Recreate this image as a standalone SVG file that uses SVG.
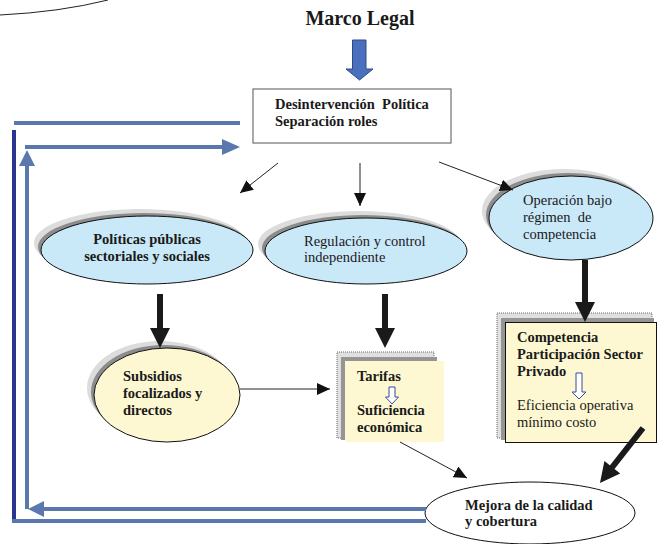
<svg xmlns="http://www.w3.org/2000/svg" width="658" height="544" viewBox="0 0 658 544">
<defs>
<style>
text{font-family:"Liberation Serif","Times New Roman",serif;font-size:14.5px;fill:#1a1a1a;white-space:pre}
.b{font-weight:bold}
.title{font-size:20px;font-weight:bold}
.thin{stroke:#222;stroke-width:1;fill:none}
.thick{stroke:#1a1a1a;stroke-width:6;fill:none}
.fb{stroke:#5a78ad;stroke-width:4;fill:none}
.navy{stroke:#2b3590;stroke-width:4;fill:none}
.sh1{fill:#dcdcdc}
.sh2{fill:#8c8c8c}
.blue{fill:#c9e8f8;stroke:#111;stroke-width:1}
.yel{fill:#fdf8d2;stroke:#111;stroke-width:1}
.hollow{fill:#fff;stroke:#3a48a0;stroke-width:1}
</style>
<marker id="ah" markerUnits="userSpaceOnUse" markerWidth="14" markerHeight="12" refX="13" refY="6" orient="auto">
<path d="M0,0 L13,6 L0,12 Z" fill="#111"/>
</marker>
</defs>

<path d="M0,15 Q60,12 108,0" stroke="#222" stroke-width="1" fill="none"/>

<g id="marco">
<text class="title" x="360" y="25" text-anchor="middle">Marco Legal</text>
<polygon points="352.5,40 366,40 366,69 373,69 359.5,80 346,69 352.5,69" fill="#4a70bd" stroke="#2c4a87" stroke-width="1"/>
</g>

<g id="desintervencion">
<rect x="253" y="89" width="198" height="54" fill="#fff" stroke="#555" stroke-width="1"/>
<text class="b" x="275" y="109" xml:space="preserve">Desintervención  Política</text>
<text class="b" x="275" y="126">Separación roles</text>
</g>

<g id="politicas">
<ellipse class="sh1" cx="140" cy="243" rx="106" ry="34"/>
<ellipse class="sh2" cx="144" cy="247" rx="106" ry="34"/>
<ellipse class="blue" cx="147" cy="250" rx="106" ry="34"/>
<text class="b" x="147" y="244" text-anchor="middle">Políticas públicas</text>
<text class="b" x="147" y="261" text-anchor="middle">sectoriales y sociales</text>
</g>

<g id="regulacion">
<ellipse class="sh1" cx="359" cy="244" rx="101" ry="33"/>
<ellipse class="sh2" cx="363" cy="248" rx="101" ry="33"/>
<ellipse class="blue" cx="366" cy="251" rx="101" ry="33"/>
<text x="304" y="246">Regulación y control</text>
<text x="304" y="262">independiente</text>
</g>

<g id="operacion">
<ellipse class="sh1" cx="564" cy="211" rx="82" ry="42"/>
<ellipse class="sh2" cx="568" cy="215" rx="82" ry="42"/>
<ellipse class="blue" cx="571" cy="218" rx="82" ry="42"/>
<text x="523" y="205">Operación bajo</text>
<text x="523" y="222" xml:space="preserve">régimen  de</text>
<text x="523" y="239">competencia</text>
</g>

<g id="subsidios">
<ellipse class="sh1" cx="160" cy="388" rx="73" ry="47"/>
<ellipse class="sh2" cx="164" cy="392" rx="73" ry="47"/>
<ellipse class="yel" cx="167" cy="395" rx="73" ry="47"/>
<text class="b" x="123" y="381">Subsidios</text>
<text class="b" x="123" y="398">focalizados y</text>
<text class="b" x="123" y="415">directos</text>
</g>

<g id="tarifas">
<rect x="337" y="352" width="97" height="86" fill="#e0e0e0" stroke="#666" stroke-width="1" stroke-dasharray="1,1"/>
<rect x="341" y="357" width="96" height="83" fill="#959595"/>
<rect x="345" y="361" width="99" height="81" fill="#fdf8d2"/>
<text class="b" x="357" y="381">Tarifas</text>
<polygon class="hollow" points="389,387 395,387 395,397 398.5,397 392,404 385.5,397 389,397"/>
<text class="b" x="357" y="415">Suficiencia</text>
<text class="b" x="357" y="432">económica</text>
</g>

<g id="competencia">
<rect x="497" y="313" width="155" height="125" fill="#e0e0e0" stroke="#666" stroke-width="1" stroke-dasharray="1,1"/>
<rect x="501" y="318" width="153" height="122" fill="#959595"/>
<rect x="505.5" y="322.5" width="151" height="120" fill="#fdf8d2" stroke="#111" stroke-width="1"/>
<text class="b" x="517" y="342">Competencia</text>
<text class="b" x="517" y="359">Participación Sector</text>
<text class="b" x="517" y="376">Privado</text>
<polygon class="hollow" points="576,373 582,373 582,392 586,392 579,399 572,392 576,392"/>
<text x="517" y="410">Eficiencia operativa</text>
<text x="517" y="427">mínimo costo</text>
</g>

<g id="mejora">
<ellipse cx="530" cy="513" rx="105" ry="31" fill="#fff" stroke="#111" stroke-width="1"/>
<text class="b" x="465" y="510">Mejora de la calidad</text>
<text class="b" x="465" y="526">y cobertura</text>
</g>

<g id="connectors">
<line class="thin" x1="278" y1="163" x2="240" y2="193" marker-end="url(#ah)"/>
<line class="thin" x1="360" y1="163" x2="360" y2="206" marker-end="url(#ah)"/>
<line class="thin" x1="439" y1="162" x2="513" y2="190" marker-end="url(#ah)"/>
<line class="thin" x1="240" y1="389" x2="330" y2="389" stroke="#555" marker-end="url(#ah)"/>
<line class="thin" x1="400" y1="442" x2="467" y2="478" marker-end="url(#ah)"/>

<line class="thick" x1="160" y1="294" x2="160" y2="330"/>
<polygon points="150,328 170,328 160,348" fill="#1a1a1a"/>
<line class="thick" x1="385" y1="294" x2="385" y2="330"/>
<polygon points="375,328 395,328 385,348" fill="#1a1a1a"/>
<line class="thick" x1="585" y1="260" x2="585" y2="304"/>
<polygon points="575,302 595,302 585,322" fill="#1a1a1a"/>
<line class="thick" x1="643" y1="428" x2="610" y2="470"/>
<polygon points="620.2,473.4 604.4,461 600,483" fill="#1a1a1a"/>

<line class="fb" x1="14" y1="123" x2="240" y2="123"/>
<line class="navy" x1="14" y1="130" x2="14" y2="523"/>
<line class="fb" x1="12" y1="521" x2="426" y2="521"/>
<line class="fb" x1="426" y1="509" x2="42" y2="509"/>
<polygon points="44,501 44,517 28,509" fill="#5a78ad"/>
<line class="fb" x1="27" y1="509" x2="27" y2="164"/>
<polygon points="19,166 35,166 27,150" fill="#5a78ad"/>
<line class="fb" x1="25" y1="147" x2="224" y2="147"/>
<polygon points="222,139 222,155 240,147" fill="#5a78ad"/>
</g>
</svg>
